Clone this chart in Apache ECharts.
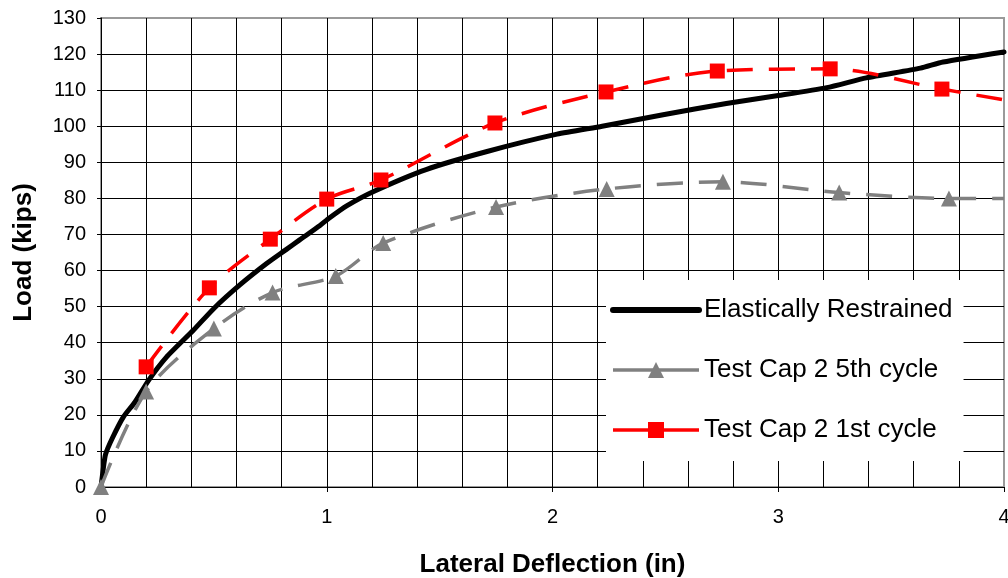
<!DOCTYPE html>
<html>
<head>
<meta charset="utf-8">
<script src="https://cdn.jsdelivr.net/npm/echarts@6/dist/echarts.min.js"></script>
<style>
html,body{margin:0;padding:0;background:#fff;}
#chart{width:1008px;height:578px;}
</style>
</head>
<body>
<div id="chart"></div>
<script>
// Data: [lateral deflection (in), load (kips)]
const seriesNames = ['Elastically Restrained', 'Test Cap 2 5th cycle', 'Test Cap 2 1st cycle'];
const elastic = [
  [0,0],[0.01,5],[0.02,9],[0.05,13.5],[0.1,19.5],[0.15,23.5],[0.21,29.5],[0.29,36],
  [0.41,43.5],[0.5,49.5],[0.615,56],[0.735,62],[0.82,65.8],[0.88,68.5],[0.97,72.5],
  [1.01,74.5],[1.09,78],[1.21,82],[1.44,88],[1.71,93],[2.02,97.8],[2.22,100],
  [2.49,103.2],[2.77,106.3],[3.0,108.5],[3.215,110.7],[3.39,113.4],[3.63,116.1],
  [3.73,117.8],[4.0,120.6]
];
const cycle5 = [
  [0,0],[0.2,26.5],[0.5,43.9],[0.76,53.9],[1.04,58.5],[1.25,67.6],[1.75,77.6],
  [2.24,82.6],[2.755,84.6],[3.27,81.6],[3.756,80],[4.0,80]
];
const cycle1 = [
  [0.2,33.3],[0.48,55.2],[0.75,68.7],[1.0,79.8],[1.24,85.1],[1.745,100.9],
  [2.237,109.5],[2.73,115.3],[3.23,115.9],[3.725,110.3],[4.0,107.3]
];
const xTicks = [0, 1, 2, 3, 4];
const yTicks = [0, 10, 20, 30, 40, 50, 60, 70, 80, 90, 100, 110, 120, 130];

// last point sits on the plot edge (curve continues past it), so no marker there
function withEndNoMarker(arr) {
  return arr.map((p, i) => i === arr.length - 1 ? { value: p, symbol: 'none' } : p);
}

const FONT = '"Liberation Sans", Arial, sans-serif';
const chart = echarts.init(document.getElementById('chart'), null, { renderer: 'canvas' });
chart.setOption({
  animation: false,
  backgroundColor: '#fff',
  grid: {
    left: 101, right: 4, top: 18, bottom: 91,
    containLabel: false,
    outerBoundsMode: 'none',
    show: true, borderColor: '#9a9a9a', borderWidth: 2, backgroundColor: 'transparent'
  },
  legend: {
    orient: 'vertical',
    left: 606, top: 280,
    padding: [17, 11, 18, 4],
    backgroundColor: '#fff',
    itemGap: 34,
    itemWidth: 86,
    itemHeight: 20,
    textStyle: { fontFamily: FONT, fontSize: 26, color: '#000', lineHeight: 26 },
    data: [
      { name: seriesNames[0], itemStyle: { color: 'rgba(0,0,0,0)', opacity: 0 },
        lineStyle: { color: '#000', width: 6, type: 'solid', cap: 'round' } },
      { name: seriesNames[1], lineStyle: { color: '#808080', width: 3.5, type: 'solid' } },
      { name: seriesNames[2], lineStyle: { color: '#ff0000', width: 3.5, type: 'solid' } }
    ]
  },
  xAxis: {
    type: 'value',
    min: xTicks[0], max: xTicks[xTicks.length - 1], interval: 1,
    name: 'Lateral Deflection (in)',
    nameLocation: 'middle',
    nameGap: 65,
    nameTextStyle: { fontFamily: FONT, fontSize: 26, fontWeight: 'bold', color: '#000' },
    axisLine: { lineStyle: { color: '#000', width: 1 } },
    axisTick: { show: true, length: 5, lineStyle: { color: '#000' } },
    minorTick: { show: false, splitNumber: 5 },
    axisLabel: { fontFamily: FONT, fontSize: 20, color: '#000', margin: 20 },
    splitLine: { show: true, showMaxLine: false, lineStyle: { color: '#000', width: 1 } },
    minorSplitLine: { show: true, lineStyle: { color: '#000', width: 1 } }
  },
  yAxis: {
    type: 'value',
    min: yTicks[0], max: yTicks[yTicks.length - 1], interval: 10,
    name: 'Load (kips)',
    nameLocation: 'middle',
    nameGap: 64,
    nameTextStyle: { fontFamily: FONT, fontSize: 26, fontWeight: 'bold', color: '#000' },
    axisLine: { show: true, lineStyle: { color: '#000', width: 1 } },
    axisTick: { show: true, length: 4, lineStyle: { color: '#000' } },
    axisLabel: { fontFamily: FONT, fontSize: 20, color: '#000', margin: 15 },
    splitLine: { show: true, showMaxLine: false, lineStyle: { color: '#000', width: 1 } }
  },
  series: [
    {
      name: seriesNames[0], type: 'line', data: elastic,
      showSymbol: false, symbol: 'none', smooth: 0.2, clip: true,
      lineStyle: { color: '#000', width: 5, cap: 'round', join: 'round' },
      itemStyle: { color: '#000' },
      z: 2
    },
    {
      name: seriesNames[1], type: 'line', data: withEndNoMarker(cycle5),
      symbol: 'triangle', symbolSize: 16, smooth: 0.3, clip: true,
      lineStyle: { color: '#808080', width: 3.5, type: [26, 16] },
      itemStyle: { color: '#808080' },
      z: 3
    },
    {
      name: seriesNames[2], type: 'line', data: withEndNoMarker(cycle1),
      symbol: 'rect', symbolSize: 15, smooth: 0.3, clip: true,
      lineStyle: { color: '#ff0000', width: 3.5, type: [26, 16] },
      itemStyle: { color: '#ff0000' },
      z: 4
    }
  ]
});
</script>
</body>
</html>
